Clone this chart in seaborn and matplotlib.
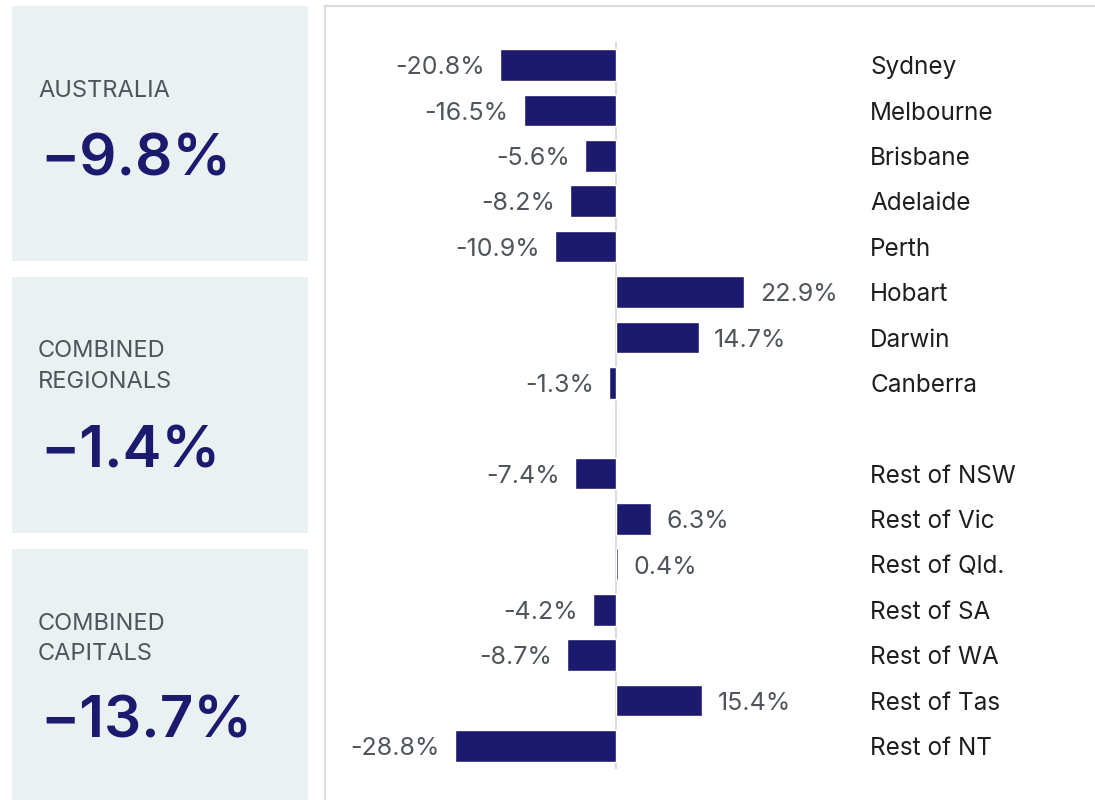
import matplotlib
matplotlib.use("Agg")
import matplotlib.pyplot as plt
import matplotlib.transforms as mtransforms
import seaborn as sns
import pandas as pd

# Data
capitals = ["Sydney", "Melbourne", "Brisbane", "Adelaide", "Perth", "Hobart", "Darwin", "Canberra"]
capital_change = [-20.8, -16.5, -5.6, -8.2, -10.9, 22.9, 14.7, -1.3]
regionals = ["Rest of NSW", "Rest of Vic", "Rest of Qld.", "Rest of SA", "Rest of WA", "Rest of Tas", "Rest of NT"]
regional_change = [-7.4, 6.3, 0.4, -4.2, -8.7, 15.4, -28.8]

summary_titles = [["AUSTRALIA"], ["COMBINED", "REGIONALS"], ["COMBINED", "CAPITALS"]]
summary_values = ["\u22129.8%", "\u22121.4%", "\u221213.7%"]

NAVY = "#1c1a6e"
GREY_TXT = "#50555c"
BOX_BG = "#ebf0f3"
LINE = "#dcdcdc"

W, H = 1095, 800

def px(x, y):
    """pixel (from top left) to figure fraction"""
    return x / W, 1 - y / H

sns.set_theme(style="white")
plt.rcParams["font.family"] = ["Inter", "DejaVu Sans"]

fig = plt.figure(figsize=(W / 100, H / 100), dpi=100)
fig.patch.set_facecolor("white")

# Left summary boxes
boxes = [(6, 261), (277, 533), (549, 800)]
for (top, bottom) in boxes:
    bx = fig.add_axes([12 / W, 1 - bottom / H, 296 / W, (bottom - top) / H])
    bx.set_facecolor(BOX_BG)
    bx.set_xticks([])
    bx.set_yticks([])
    for s in bx.spines.values():
        s.set_visible(False)

title_baselines = [[97], [357, 388], [630, 660]]
value_baselines = [175, 468, 738]
for titles, bases, val, vb in zip(summary_titles, title_baselines, summary_values, value_baselines):
    for t, b in zip(titles, bases):
        fig.text(*px(38, b), t, fontsize=17, color=GREY_TXT, va="baseline", ha="left")
    fig.text(*px(40, vb), val, fontsize=42, fontweight="semibold", color=NAVY,
             va="baseline", ha="left")

# Main bar chart
df = pd.DataFrame({
    "region": capitals + regionals,
    "change": capital_change + regional_change,
})
order = capitals + [" "] + regionals

ax = fig.add_axes([325 / W, 0, (W - 325) / W, (H - 6) / H])
sns.barplot(data=df, x="change", y="region", order=order, color=NAVY,
            saturation=1, width=0.7, ax=ax)

ax.set_xlim(-52, 85.5)
ax.set_ylim(16.19, -1.30)
ax.set_xlabel("")
ax.set_ylabel("")
ax.set_xticks([])
ax.set_yticks([])
for side in ["right", "bottom"]:
    ax.spines[side].set_visible(False)
for side in ["left", "top"]:
    ax.spines[side].set_color(LINE)
    ax.spines[side].set_linewidth(1.5)

ax.vlines(0, -0.5, 15.5, color=LINE, linewidth=1.5, zorder=0)

trans = mtransforms.blended_transform_factory(ax.transAxes, ax.transData)
for region, value in zip(df["region"], df["change"]):
    ypos = order.index(region) + 0.06
    if value < 0:
        ax.annotate(f"{value:.1f}%", (value, ypos), xytext=(-11, 0), textcoords="offset points",
                    ha="right", va="center", fontsize=18, color=GREY_TXT)
    else:
        ax.annotate(f"{value:.1f}%", (value, ypos), xytext=(11, 0), textcoords="offset points",
                    ha="left", va="center", fontsize=18, color=GREY_TXT)
    ax.text(0.708, ypos, region, transform=trans, ha="left", va="center",
            fontsize=17.5, color="#1e1e1e")

fig.savefig("out.png", dpi=100)
